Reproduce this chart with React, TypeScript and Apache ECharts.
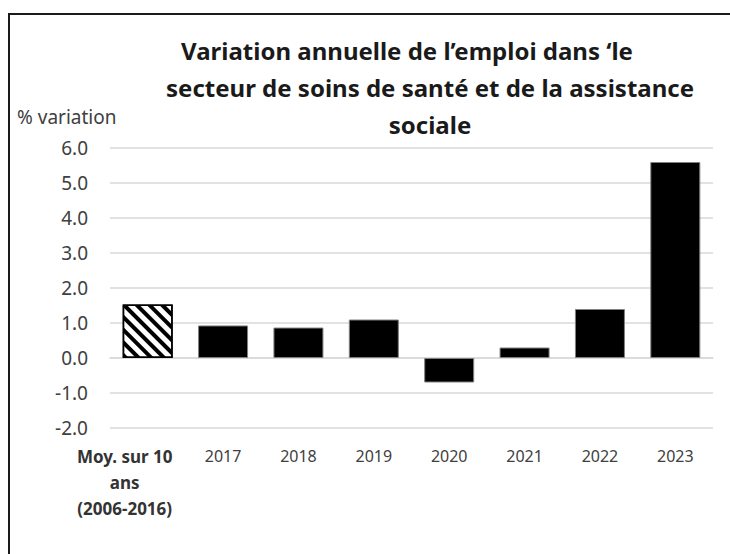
import React, { useEffect, useRef } from "react";
import * as echarts from "echarts";

const categories = ["Moy. sur 10 ans (2006-2016)", "2017", "2018", "2019", "2020", "2021", "2022", "2023"];
const values = [1.53, 0.93, 0.87, 1.1, -0.7, 0.3, 1.4, 5.6];
const titleLines = [
  "Variation annuelle de l\u2019emploi dans \u2018le",
  "secteur de soins de sant\u00e9 et de la assistance",
  "sociale",
];
const yAxisName = "% variation";

const FONT = "'Noto Sans', 'Open Sans', sans-serif";

export default function App() {
  const ref = useRef<HTMLDivElement>(null);
  useEffect(() => {
    document.body.style.margin = "0";
    const chart = echarts.init(ref.current!, null, { renderer: "svg" });
    const data = values.map((v, i) =>
      i === 0
        ? {
            value: v,
            itemStyle: {
              color: "#ffffff",
              borderColor: "#000000",
              borderWidth: 1.5,
              decal: {
                symbol: "rect",
                symbolSize: 1,
                color: "#000000",
                backgroundColor: "#ffffff",
                dashArrayX: [[1, 0]],
                dashArrayY: [3.5, 5],
                rotation: Math.PI / 4,
              },
            },
          }
        : { value: v }
    );
    const titleX = [407, 430, 430];
    const titleY = [50, 87, 124];
    chart.setOption({
      animation: false,
      backgroundColor: "#ffffff",
      textStyle: { fontFamily: FONT },
      grid: { left: 110, right: 17, top: 148, bottom: 126 },
      xAxis: {
        type: "category",
        data: categories,
        axisLine: { lineStyle: { color: "#d9d9d9", width: 1.5 } },
        axisTick: { show: false },
        axisLabel: {
          interval: 0,
          margin: 15,
          color: "#404040",
          fontSize: 16,
          lineHeight: 26,
          fontFamily: FONT,
          formatter: (v: string, i: number) =>
            i === 0 ? "{m|Moy. sur 10}\n{m|ans}\n{m|(2006-2016)}" : v,
          rich: {
            m: {
              fontWeight: "bold",
              fontSize: 17,
              lineHeight: 26,
              color: "#333333",
              fontFamily: FONT,
              padding: [0, 46, 0, 0],
            },
          },
        },
      },
      yAxis: {
        type: "value",
        min: -2,
        max: 6,
        interval: 1,
        axisLine: { show: false },
        axisTick: { show: false },
        splitLine: { lineStyle: { color: "#d9d9d9", width: 1.5 } },
        axisLabel: {
          margin: 22,
          color: "#404040",
          fontSize: 19,
          fontFamily: FONT,
          formatter: (v: number) => v.toFixed(1),
        },
      },
      series: [
        {
          type: "bar",
          data,
          barWidth: 50,
          itemStyle: { color: "#000000", borderColor: "#808080", borderWidth: 1 },
        },
      ],
      graphic: [
        {
          type: "line",
          shape: { x1: 8, y1: 14, x2: 730, y2: 14 },
          style: { stroke: "#1a1a1a", lineWidth: 2 },
        },
        {
          type: "line",
          shape: { x1: 9, y1: 14, x2: 9, y2: 554 },
          style: { stroke: "#1a1a1a", lineWidth: 2 },
        },
        ...titleLines.map((t, i) => ({
          type: "text",
          x: titleX[i],
          y: titleY[i],
          style: {
            text: t,
            fontFamily: FONT,
            fontSize: 24,
            fontWeight: "bold",
            fill: "#1a1a1a",
            align: "center",
            verticalAlign: "middle",
          },
        })),
        {
          type: "text",
          x: 17,
          y: 117,
          style: {
            text: yAxisName,
            fontFamily: FONT,
            fontSize: 19,
            fill: "#404040",
            align: "left",
            verticalAlign: "middle",
          },
        },
      ],
    });
    return () => chart.dispose();
  }, []);
  return <div ref={ref} style={{ width: 730, height: 554 }} />;
}
